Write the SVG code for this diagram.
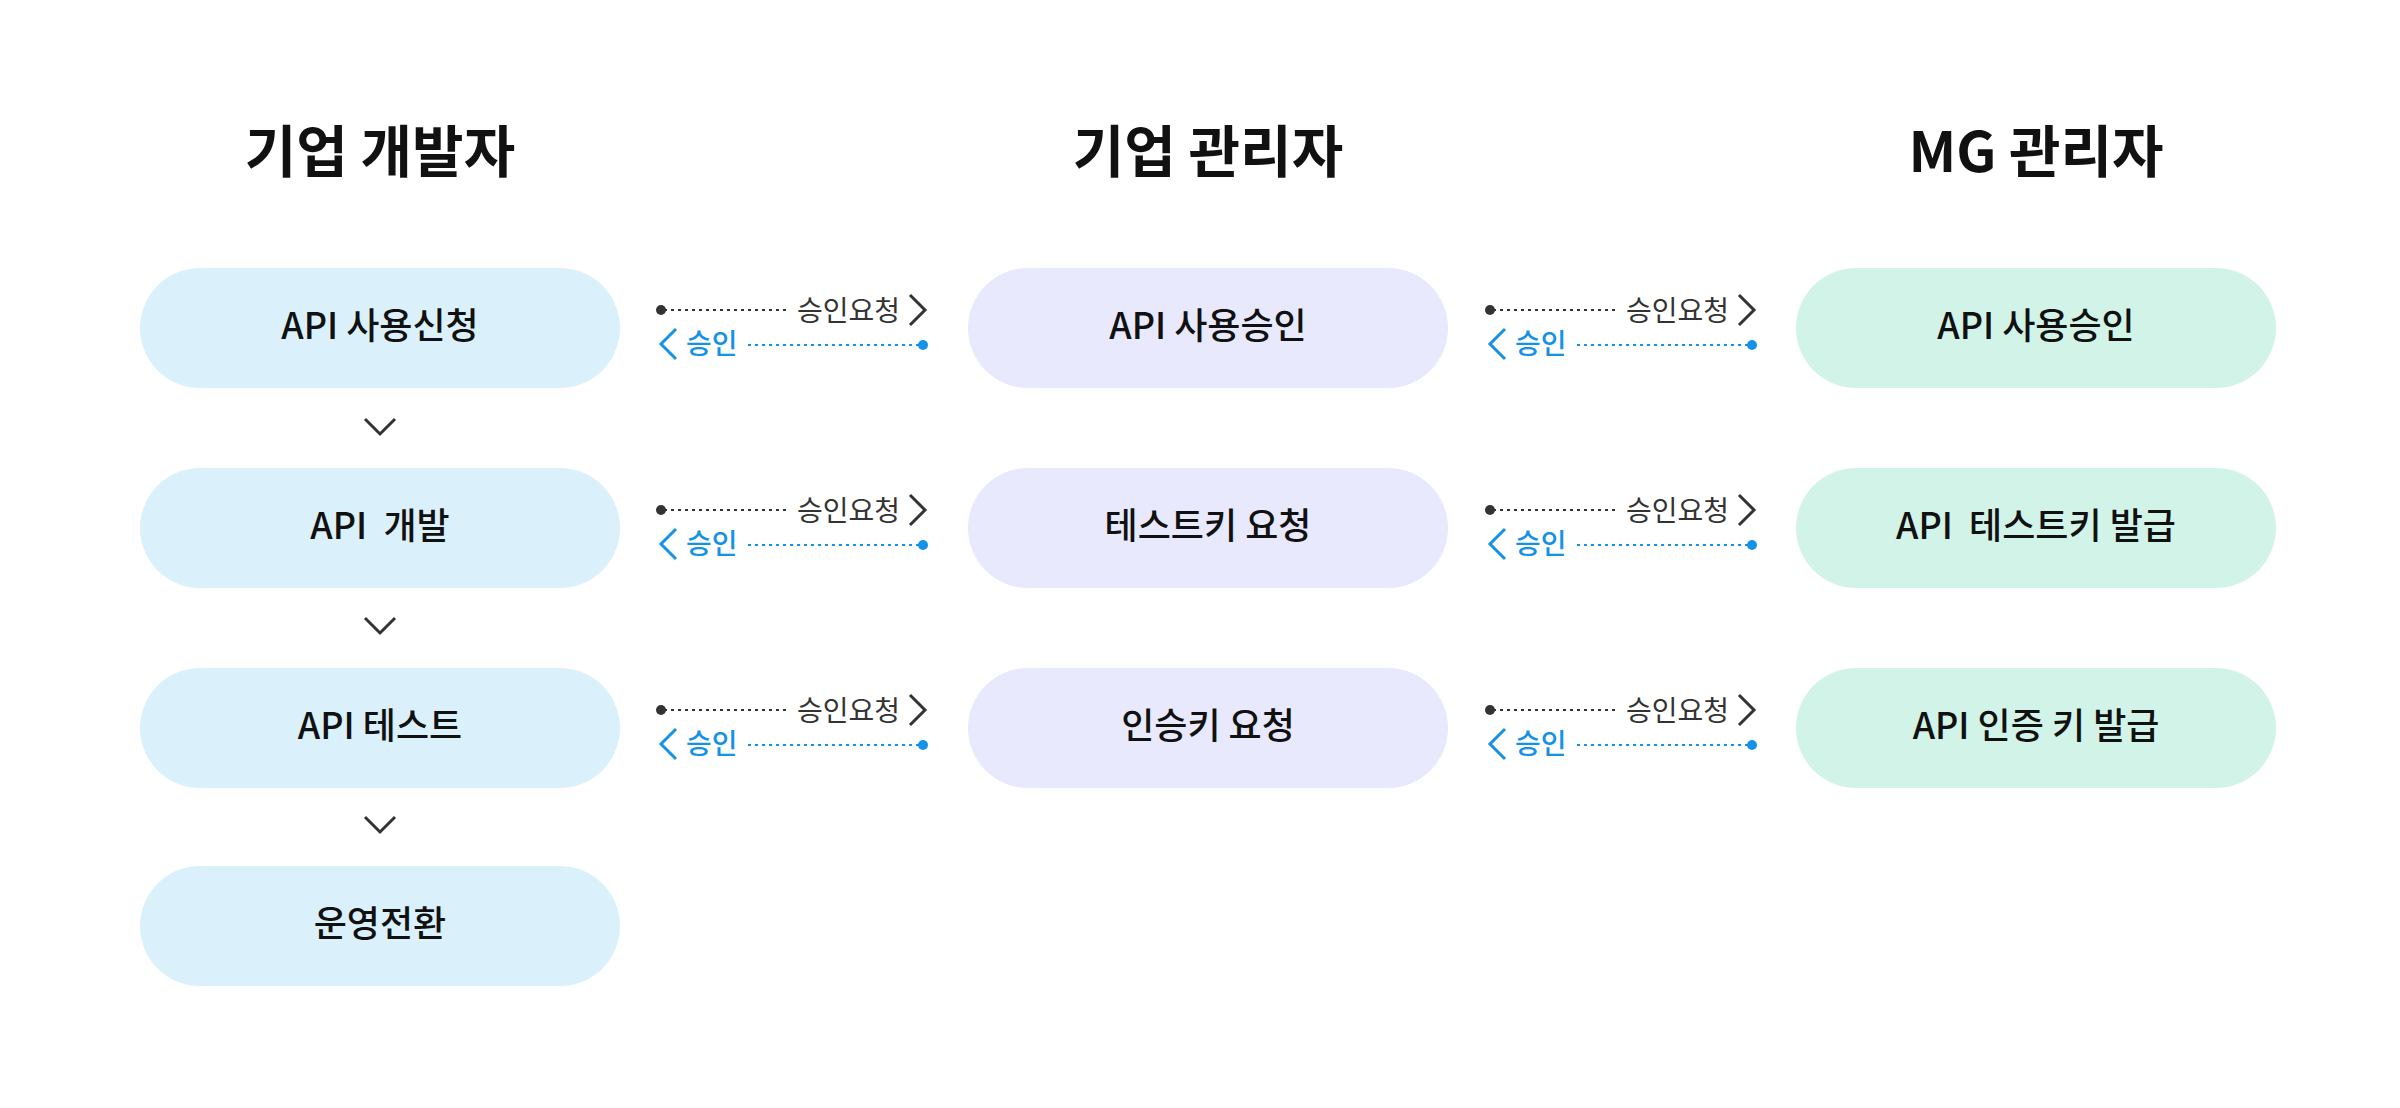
<svg xmlns="http://www.w3.org/2000/svg" width="2400" height="1108" viewBox="0 0 2400 1108">
<style>
text{font-family:"Noto Sans CJK KR","Noto Sans",sans-serif;text-anchor:middle;white-space:pre}
.title{font-size:56px;font-weight:700;fill:#111}
.lbl{font-size:36px;font-weight:500;fill:#111}
.c1{fill:#daf1fc}.c2{fill:#e8e9fd}.c3{fill:#d2f3e8}
.req{font-size:28px;font-weight:400;fill:#333;text-anchor:end}
.ok{font-size:28px;font-weight:500;fill:#1592e6;text-anchor:start}
.dk{stroke:#333;stroke-width:2;stroke-dasharray:3 4;fill:none}
.bl{stroke:#1592e6;stroke-width:2;stroke-dasharray:3 4;fill:none}
.chk{stroke:#333;stroke-width:3;fill:none}
.chb{stroke:#1592e6;stroke-width:3;fill:none}
</style>
<rect width="2400" height="1108" fill="#fff"/>
<g id="titles">
<text class="title" x="380" y="172">기업 개발자</text>
<text class="title" x="1208" y="172">기업 관리자</text>
<text class="title" x="2036" y="172">MG 관리자</text>
</g>
<g id="n1"><rect class="c1" x="140" y="268" width="480" height="120" rx="60"/><text class="lbl" x="380" y="339">API 사용신청</text></g>
<g id="n2"><rect class="c1" x="140" y="468" width="480" height="120" rx="60"/><text class="lbl" x="380" y="539">API  개발</text></g>
<g id="n3"><rect class="c1" x="140" y="668" width="480" height="120" rx="60"/><text class="lbl" x="380" y="739">API 테스트</text></g>
<g id="n4"><rect class="c1" x="140" y="866" width="480" height="120" rx="60"/><text class="lbl" x="380" y="937">운영전환</text></g>
<g id="m1"><rect class="c2" x="968" y="268" width="480" height="120" rx="60"/><text class="lbl" x="1208" y="339">API 사용승인</text></g>
<g id="m2"><rect class="c2" x="968" y="468" width="480" height="120" rx="60"/><text class="lbl" x="1208" y="539">테스트키 요청</text></g>
<g id="m3"><rect class="c2" x="968" y="668" width="480" height="120" rx="60"/><text class="lbl" x="1208" y="739">인승키 요청</text></g>
<g id="g1"><rect class="c3" x="1796" y="268" width="480" height="120" rx="60"/><text class="lbl" x="2036" y="339">API 사용승인</text></g>
<g id="g2"><rect class="c3" x="1796" y="468" width="480" height="120" rx="60"/><text class="lbl" x="2036" y="539">API  테스트키 발급</text></g>
<g id="g3"><rect class="c3" x="1796" y="668" width="480" height="120" rx="60"/><text class="lbl" x="2036" y="739">API 인증 키 발급</text></g>
<defs>
<g id="link">
<circle cx="661" cy="310" r="5" fill="#333"/>
<line class="dk" x1="664" y1="310" x2="788" y2="310"/>
<text class="req" x="900" y="321">승인요청</text>
<polyline class="chk" points="910,295 925,310 910,325"/>
<polyline class="chb" points="676,329 661,344 676,359"/>
<text class="ok" x="686" y="354">승인</text>
<line class="bl" x1="748" y1="345" x2="920" y2="345"/>
<circle cx="923" cy="345" r="5" fill="#1592e6"/>
</g>
</defs>
<g id="connectors">
<use href="#link"/>
<use href="#link" y="200"/>
<use href="#link" y="400"/>
<use href="#link" x="829"/>
<use href="#link" x="829" y="200"/>
<use href="#link" x="829" y="400"/>
<polyline class="chk" points="365,419 380,434 395,419"/>
<polyline class="chk" points="365,618 380,633 395,618"/>
<polyline class="chk" points="365,817 380,832 395,817"/>
</g>
</svg>
